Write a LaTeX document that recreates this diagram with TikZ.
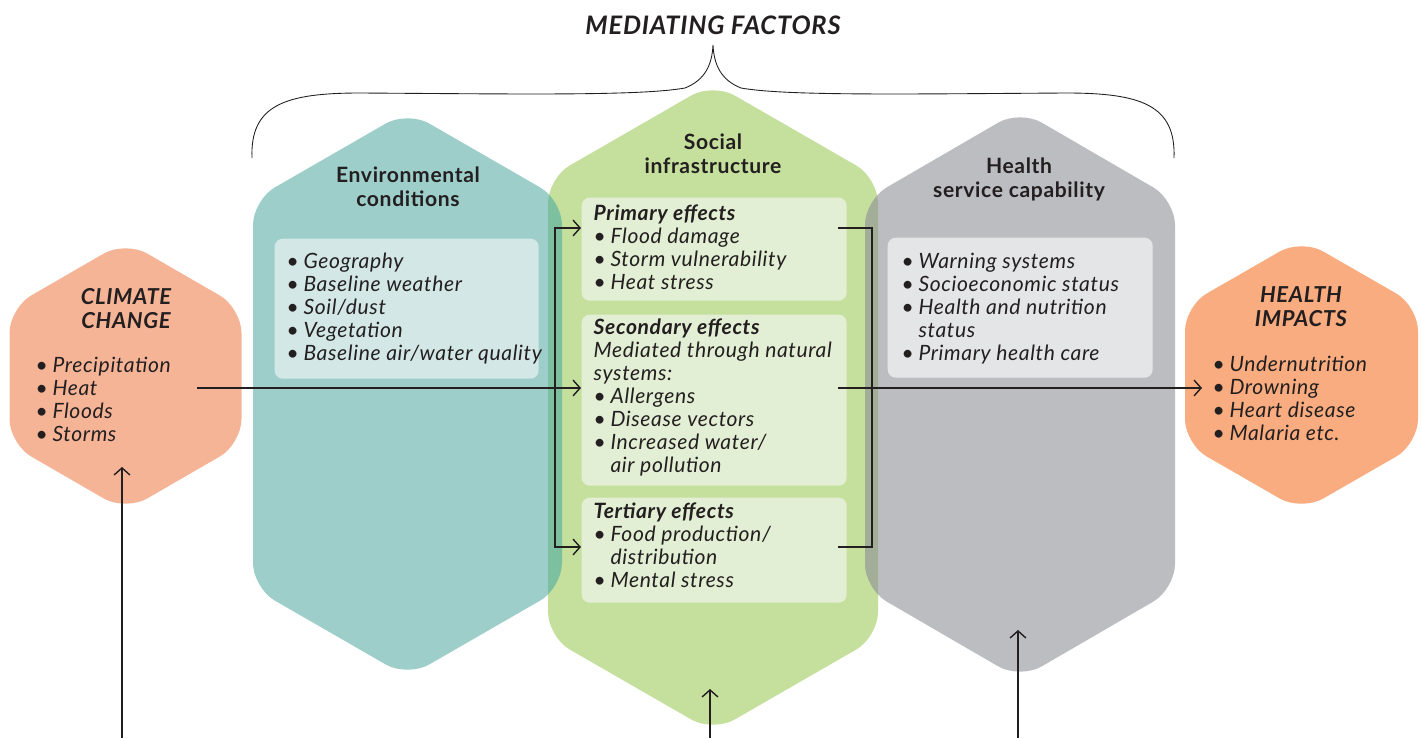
\documentclass[tikz,border=0pt]{standalone}
\usepackage{fontspec}
\setmainfont{Lato}[LetterSpace=3]
\usetikzlibrary{arrows.meta}

\definecolor{ink}{HTML}{231F20}
\definecolor{climatefill}{HTML}{F6B497}
\definecolor{impactfill}{HTML}{F8AC7F}
\definecolor{envfill}{HTML}{9DCEC9}
\definecolor{envin}{HTML}{D3E8E6}
\definecolor{socfill}{HTML}{C5DF9D}
\definecolor{socin}{HTML}{E3EFD4}
\definecolor{hsfill}{HTML}{BCBDC0}
\definecolor{hsin}{HTML}{E4E5E6}
\definecolor{envsoc}{HTML}{7DC0A0}
\definecolor{socsh}{HTML}{A3AE98}

\newcommand{\bul}{\makebox[0.8em][l]{\textbullet}}
\newcommand{\ind}{\hspace*{0.8em}}
% centre x, top, half width, upper side, lower side, bottom
\newcommand{\hexagon}[6]{(#1,#2) -- (#1+#3,#4) -- (#1+#3,#5) -- (#1,#6) -- (#1-#3,#5) -- (#1-#3,#4) -- cycle}

\tikzset{
    hexfill/.style={rounded corners=0.5cm},
    inbox/.style={rounded corners=0.16cm, inner sep=0pt, anchor=north west},
    hexhead/.style={font=\fontsize{12}{13.2}\selectfont\bfseries, align=center, anchor=base, inner sep=0pt, text=ink},
    caphead/.style={font=\fontsize{12.5}{13.5}\selectfont\bfseries\itshape, align=center, anchor=base, inner sep=0pt, text=ink},
    itemlist/.style={font=\fontsize{12}{13}\selectfont\itshape, align=left, anchor=base west, inner sep=0pt, text=ink}
}

\begin{document}
\begin{tikzpicture}[x=0.02cm, y=-0.02cm, line width=0.8pt, >={Straight Barb[length=4pt,width=9pt]}]
        \useasboundingbox (0,0) rectangle (1421,738);
        % hexagons
        \fill[hexfill, climatefill] \hexagon{125.5}{241}{116}{308}{444}{511};
        \fill[hexfill, impactfill] \hexagon{1301.5}{239}{116.5}{306}{444}{511};
        \fill[hexfill, envfill] \hexagon{407.5}{111}{154.5}{200}{588}{677};
        \fill[hexfill, socfill] \hexagon{713}{83}{165}{178}{637}{732};
        \fill[hexfill, hsfill] \hexagon{1020}{110}{155}{200}{589}{679};
        \begin{scope}
            \clip[hexfill] \hexagon{407.5}{111}{154.5}{200}{588}{677};
            \fill[hexfill, envsoc] \hexagon{713}{83}{165}{178}{637}{732};
        \end{scope}
        \begin{scope}
            \clip[hexfill] \hexagon{1020}{110}{155}{200}{589}{679};
            \fill[hexfill, socsh] \hexagon{713}{83}{165}{178}{637}{732};
        \end{scope}
        % inner boxes
        \node (env) [inbox, fill=envin, minimum width=5.28cm, minimum height=2.8cm] at (274,238) {};
        \node (pri) [inbox, fill=socin, minimum width=5.3cm, minimum height=2.06cm] at (581,197) {};
        \node (sec) [inbox, fill=socin, minimum width=5.3cm, minimum height=3.42cm] at (581,314) {};
        \node (ter) [inbox, fill=socin, minimum width=5.3cm, minimum height=2.1cm] at (581,497) {};
        \node (hs) [inbox, fill=hsin, minimum width=5.3cm, minimum height=2.8cm] at (887,237) {};
        % brace
        \draw[line width=0.5pt, ink] (252,158) .. controls (250,105) and (285,93) .. (360,93)
            .. controls (520,94) and (640,96) .. (685,88) .. controls (705,80) and (712,65) .. (713,45)
            .. controls (714,65) and (721,80) .. (741,88) .. controls (786,96) and (906,94) .. (1066,93)
            .. controls (1141,93) and (1176,105) .. (1174,158);
        \node (mf) [font=\fontsize{14.5}{16}\selectfont\bfseries\itshape, anchor=base, inner sep=0pt, text=ink] at (713,34) {MEDIATING FACTORS};
        % headings (base = last line)
        \node (cch) [caphead] at (126,328) {CLIMATE\\CHANGE};
        \node (hih) [caphead] at (1301,326) {HEALTH\\IMPACTS};
        \node (envh) [hexhead] at (408,206) {Environmental\\conditions};
        \node (soch) [hexhead] at (713,173) {Social\\infrastructure};
        \node (hsh) [hexhead] at (1019,197) {Health\\service capability};
        % lists (base = last line)
        \node (ccl) [itemlist] at (35,441) {\bul Precipitation\\\bul Heat\\\bul Floods\\\bul Storms};
        \node (envl) [itemlist] at (286,360) {\bul Geography\\\bul Baseline weather\\\bul Soil/dust\\\bul Vegetation\\\bul Baseline air/water quality};
        \node (pril) [itemlist] at (593,289) {{\bfseries Primary effects}\\\bul Flood damage\\\bul Storm vulnerability\\\bul Heat stress};
        \node (secl) [itemlist] at (593,472) {{\bfseries Secondary effects}\\Mediated through natural\\systems:\\\bul Allergens\\\bul Disease vectors\\\bul Increased water/\\\ind air pollution};
        \node (terl) [itemlist] at (593,587) {{\bfseries Tertiary effects}\\\bul Food production/\\\ind distribution\\\bul Mental stress};
        \node (hsl) [itemlist] at (901,360) {\bul Warning systems\\\bul Socioeconomic status\\\bul Health and nutrition\\\ind status\\\bul Primary health care};
        \node (hil) [itemlist] at (1212,440) {\bul Undernutrition\\\bul Drowning\\\bul Heart disease\\\bul Malaria etc.};
        % connectors
        \coordinate (ccout) at (197,388);
        \coordinate (lt) at (555,228);
        \coordinate (lb) at (555,547);
        \coordinate (rt) at (872,228);
        \coordinate (rb) at (872,547);
        \coordinate (hiin) at (1202,388);
        \draw[->, ink] (ccout) -- (ccout -| sec.west);
        \draw[<->, ink] (pri.west |- lt) -- (lt) -- (lb) -- (ter.west |- lb);
        \draw[ink] (838,228) -- (rt) -- (rb) -- (838,547);
        \draw[->, ink] (838,388) -- (hiin);
        \coordinate (ccbot) at (122,738);
        \coordinate (socbot) at (710,738);
        \coordinate (hsbot) at (1018,738);
        \draw[->, ink] (ccbot) -- (122,467);
        \draw[->, ink] (socbot) -- (710,689);
        \draw[->, ink] (hsbot) -- (1018,630);
    \end{tikzpicture}
\end{document}
